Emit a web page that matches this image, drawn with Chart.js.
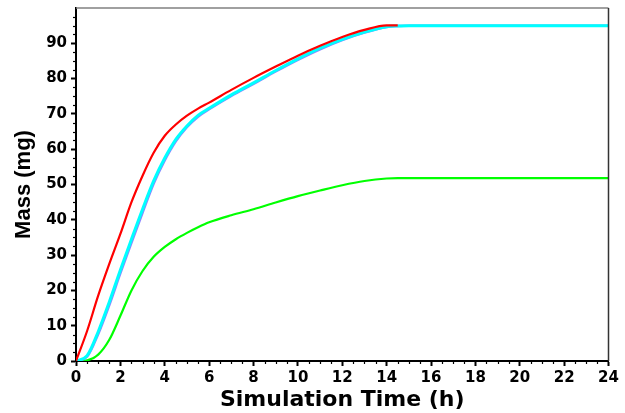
<!DOCTYPE html>
<html><head><meta charset="utf-8">
<script src="https://cdn.jsdelivr.net/npm/chart.js@4/dist/chart.umd.min.js"></script>
<style>html,body{margin:0;padding:0;background:#fff}#wrap{width:625px;height:413px}</style>
</head><body><div id="wrap"><canvas id="c" width="625" height="413"></canvas></div>
<script>
// Simulation time (h)
const timeHours = [0,0.5,1,1.5,2,2.5,3,3.5,4,4.5,5,5.5,6,7,8,9,10,11,12,13,14,14.5,15,16,18,20,22,24];
// Mass (mg) series
const redMass   = [0,8.5,18.5,27.5,36,45,52.5,59,63.8,67,69.5,71.5,73.2,76.8,80.2,83.4,86.5,89.3,91.8,93.8,95.1,95.1,null,null,null,null,null,null];
const cyanMass  = [0,1.5,8.3,16.7,25.8,34.5,43,51,57.5,62.8,66.6,69.6,71.6,75.4,78.8,82.3,85.6,88.6,91.1,93.2,94.7,94.9,95,95,95,95,95,95];
const blueMass  = [0,1.2,7.6,15.8,24.8,33.5,42,50.2,56.8,62.2,66.2,69.2,71.3,75.1,78.5,82,85.3,88.3,90.9,93,94.6,94.9,95,95,95,95,95,95];
const greenMass = [0,0.2,1.8,6,12.8,20,25.5,29.5,32.3,34.5,36.3,37.9,39.3,41.3,43,44.9,46.7,48.3,49.8,51,51.7,51.8,51.8,51.8,51.8,51.8,51.8,51.8];
const xTickValues = [0,2,4,6,8,10,12,14,16,18,20,22,24];
const yTickValues = [0,10,20,30,40,50,60,70,80,90];

function pts(arr){ return timeHours.map((t,i)=>({x:t,y:arr[i]})); }

const framePlugin = {
  id:'frame',
  afterDraw(chart){
    const {ctx, chartArea:a, scales:{x,y}} = chart;
    ctx.save();
    ctx.lineWidth = 1.5;
    ctx.strokeStyle = '#808080';
    ctx.beginPath(); ctx.moveTo(a.left, a.top); ctx.lineTo(a.right, a.top); ctx.stroke();
    ctx.strokeStyle = '#333';
    ctx.beginPath(); ctx.moveTo(a.right, a.top); ctx.lineTo(a.right, a.bottom); ctx.stroke();
    ctx.strokeStyle = '#000';
    ctx.lineWidth = 1.2;
    for (let v = 0; v <= 24; v += 0.5) {
      if (v % 2 === 0) continue;
      const px = Math.round(x.getPixelForValue(v)) + 0.5;
      ctx.beginPath(); ctx.moveTo(px, a.bottom); ctx.lineTo(px, a.bottom + 3); ctx.stroke();
    }
    for (let v = 0; v < 100; v += 2.5) {
      if (v % 10 === 0) continue;
      const py = Math.round(y.getPixelForValue(v)) + 0.5;
      ctx.beginPath(); ctx.moveTo(a.left, py); ctx.lineTo(a.left - 3, py); ctx.stroke();
    }
    ctx.restore();
  }
};

const tickFont = {family:'"DejaVu Sans", sans-serif', size:15, weight:'bold'};

new Chart(document.getElementById('c'), {
  type:'line',
  data:{
    datasets:[
      {label:'Red', data:pts(redMass), borderColor:'#ff0000', borderWidth:2.2},
      {label:'Cyan', data:pts(cyanMass), borderColor:'#00ffff', borderWidth:3},
      {label:'Blue', data:pts(blueMass), borderColor:'#8a86ff', borderWidth:2.4},
      {label:'Green', data:pts(greenMass), borderColor:'#00ff00', borderWidth:2.2}
    ]
  },
  options:{
    responsive:false,
    devicePixelRatio:1,
    animation:false,
    layout:{padding:{top:8, right:16.5, left:0, bottom:0}},
    elements:{point:{radius:0}, line:{tension:0, cubicInterpolationMode:'monotone', fill:false}},
    plugins:{legend:{display:false}, tooltip:{enabled:false}},
    scales:{
      x:{
        type:'linear', min:0, max:24,
        afterFit(s){ s.height = 52; s.paddingLeft = 0; s.paddingRight = 0; },
        afterBuildTicks(s){ s.ticks = xTickValues.map(v=>({value:v})); },
        ticks:{font:tickFont, color:'#000', padding:3, maxRotation:0, autoSkip:false},
        grid:{display:true, drawOnChartArea:false, drawTicks:true, tickLength:5, tickWidth:2, tickColor:'#000'},
        border:{display:true, color:'#000', width:2},
        title:{display:true, text:'Simulation Time (h)', color:'#000',
               font:{family:'"DejaVu Sans", sans-serif', size:22, weight:'bold'}, padding:{top:0,bottom:0}}
      },
      y:{
        type:'linear', min:0, max:100,
        afterFit(s){ s.width = 76; s.paddingTop = 0; s.paddingBottom = 0; },
        afterBuildTicks(s){ s.ticks = yTickValues.map(v=>({value:v})); },
        ticks:{font:tickFont, color:'#000', padding:4},
        grid:{display:true, drawOnChartArea:false, drawTicks:true, tickLength:5, tickWidth:2, tickColor:'#000'},
        border:{display:true, color:'#000', width:2},
        title:{display:true, text:'Mass (mg)', color:'#000',
               font:{family:'"Liberation Sans", Arial, sans-serif', size:22, weight:'bold'}, padding:{top:11,bottom:0}}
      }
    }
  },
  plugins:[framePlugin]
});
</script>
</body></html>
